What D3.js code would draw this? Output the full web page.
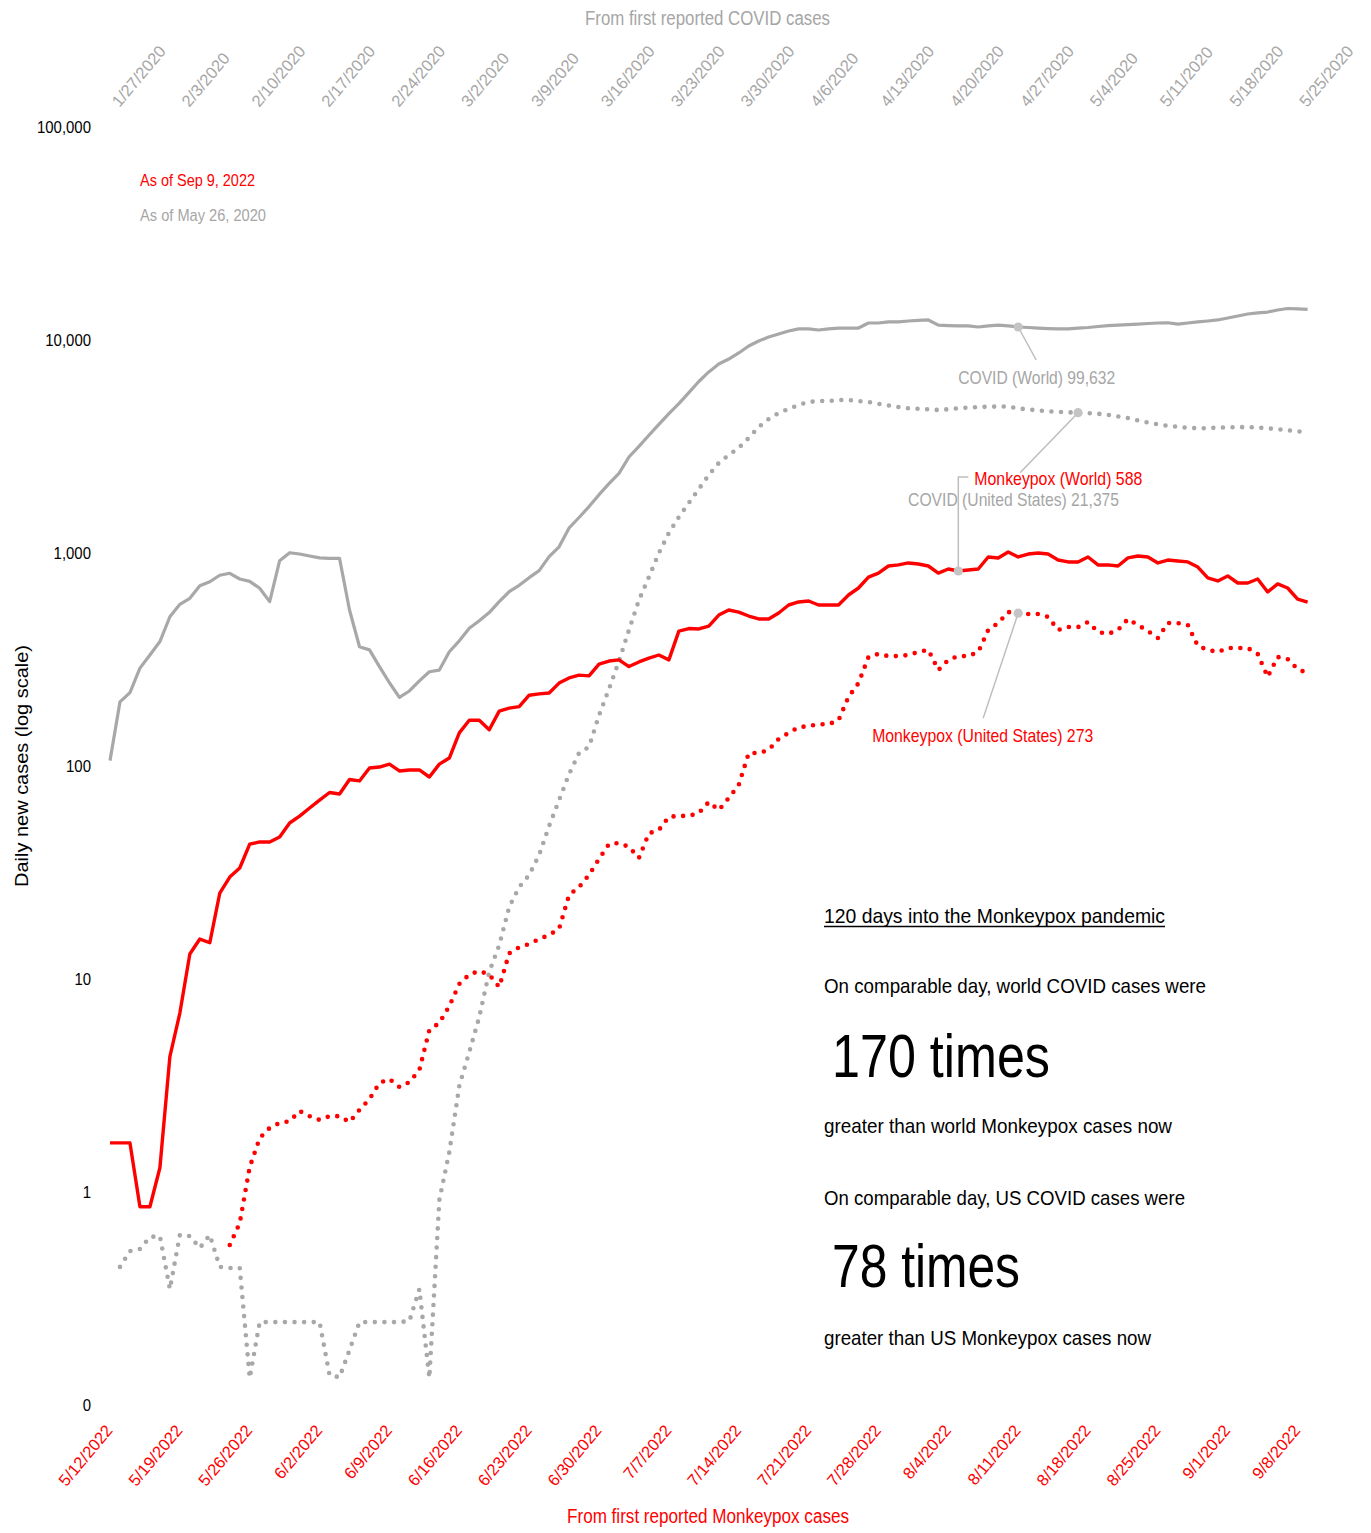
<!DOCTYPE html>
<html><head><meta charset="utf-8">
<script src="https://cdn.jsdelivr.net/npm/d3@7"></script>
<style>
body{margin:0;background:#fff;}
svg text{font-family:"Liberation Sans",Arial,sans-serif;}
</style></head><body><svg id="chart" width="1371" height="1533"></svg>
<script>
// ---------- DATA ----------
// day index 0..120 (day 0 = 1/27/2020 for COVID, 5/12/2022 for Monkeypox)
const covidWorld = [106,200,221,288,332,384,502,574,613,702,
733,786,803,755,736,683,591,920,1003,989,
968,948,944,944,540,363,351,293,246,210,
225,251,277,282,344,387,443,481,525,591,
658,705,766,827,961,1069,1310,1468,1652,1879,
2117,2366,2823,3165,3570,4019,4510,5023,5662,6385,
7080,7716,8140,8690,9370,9890,10330,10670,11020,11270,
11270,11140,11270,11380,11380,11380,12020,12020,12160,12160,
12280,12360,12420,11750,11690,11640,11640,11510,11640,11750,
11640,11510,11450,11380,11320,11270,11270,11380,11450,11570,
11690,11750,11820,11880,11950,12020,12050,11880,12020,12160,
12280,12420,12690,12970,13250,13400,13530,13830,14060,13990,13920];

const covidUS = [null,0.445,0.528,0.540,0.615,0.621,0.350,0.628,0.621,0.546,
0.628,0.445,0.440,0.440,0.134,0.245,0.245,0.245,0.245,0.245,
0.245,0.245,0.138,0.135,0.181,0.245,0.245,0.245,0.245,0.245,
0.248,0.350,0.134,0.917,1.54,3.15,4.54,6.63,10.8,14.4,
21.8,27.0,30.8,38.2,52.3,69.2,91.7,115,123,173,
230,311,435,601,771,1000,1242,1476,1718,1997,
2324,2646,2885,3113,3467,3906,4259,4543,4745,4955,
5117,5172,5172,5226,5226,5172,5117,5012,4932,4844,
4777,4755,4727,4690,4730,4777,4819,4840,4865,4870,
4875,4774,4720,4668,4622,4597,4578,4558,4539,4505,
4456,4375,4301,4189,4095,4020,3955,3912,3870,3850,
3854,3879,3892,3896,3900,3879,3850,3812,3771,3726,3686];

const mpxWorld = [1.70,1.70,1.70,0.853,0.853,1.30,4.32,6.92,13.1,15.4,
14.8,25.3,30.1,33.2,43.0,44.0,44.0,46.4,54.0,58.2,
63.5,69.2,75.1,73.9,86.4,85.1,97.9,98.9,102,94.8,
95.8,95.8,88.8,102,109,143,164,164,148,181,
187,190,215,218,220,245,259,267,265,301,
311,315,293,308,321,332,315,430,442,440,
454,511,540,528,506,490,490,523,570,589,
595,570,570,570,635,685,771,805,869,879,
898,888,869,805,841,823,832,841,958,948,
1011,958,989,1000,989,927,908,908,958,879,
879,869,948,968,958,898,927,917,908,859,
764,739,780,723,723,755,656,716,685,608,588];

const mpxUS = [null,null,null,null,null,null,null,null,null,null,
null,null,0.564,0.715,1.31,1.79,2.0,2.11,2.15,2.40,
2.27,2.18,2.27,2.27,2.13,2.43,2.73,3.25,3.39,3.11,
3.28,3.74,5.76,6.22,7.47,9.48,10.5,10.9,10.5,9.17,
13.2,14.1,14.6,15.4,16.1,17.2,24.8,27.0,30.8,36.6,
43.0,43.5,41.7,37.0,48.3,50.1,57.7,58.3,58.3,60.1,
67.8,62.1,70.8,81.5,115,115,119,134,143,152,
154,157,157,164,211,245,325,336,328,328,
332,343,351,282,315,328,328,343,435,469,
528,522,517,517,501,435,449,449,474,426,
417,435,490,459,430,399,469,469,459,366,
351,343,358,358,358,336,262,325,318,285,273];

const covidTickLabels = ["1/27/2020","2/3/2020","2/10/2020","2/17/2020","2/24/2020","3/2/2020","3/9/2020","3/16/2020","3/23/2020","3/30/2020","4/6/2020","4/13/2020","4/20/2020","4/27/2020","5/4/2020","5/11/2020","5/18/2020","5/25/2020"];
const mpxTickLabels = ["5/12/2022","5/19/2022","5/26/2022","6/2/2022","6/9/2022","6/16/2022","6/23/2022","6/30/2022","7/7/2022","7/14/2022","7/21/2022","7/28/2022","8/4/2022","8/11/2022","8/18/2022","8/25/2022","9/1/2022","9/8/2022"];
const tickDays = d3.range(0, 120, 7);
const yTickValues = [0.1, 1, 10, 100, 1000, 10000, 100000];
const yTickLabels = ["0","1","10","100","1,000","10,000","100,000"];

// annotations: series, marker day, label text
const annotations = [
  {series:"covidWorld", day:91, text:"COVID (World) 99,632"},
  {series:"covidUS", day:97, text:"COVID (United States) 21,375"},
  {series:"mpxWorld", day:85, text:"Monkeypox (World) 588"},
  {series:"mpxUS", day:91, text:"Monkeypox (United States) 273"}
];

// ---------- LAYOUT / STYLE ----------
const RED = "#ff0000", GRAY = "#a8a8a8", GRAYTXT = "#a6a6a6";
const svg = d3.select("#chart");
const x = d3.scaleLinear().domain([0,120]).range([110,1307.6]);
const y = d3.scaleLog().domain([0.1,100000]).range([1405,127]);

function label(sel, o){
  let tr = `translate(${o.x},${o.y})`;
  if (o.rot) tr += ` rotate(${o.rot})`;
  if (o.sx) tr += ` scale(${o.sx},1)`;
  const g = sel.append("g").attr("transform", tr);
  const t = g.append("text").text(o.text)
    .attr("font-size", o.size).attr("fill", o.fill || "#000")
    .attr("text-anchor", o.anchor || "start");
  if (o.len) t.attr("textLength", o.len).attr("lengthAdjust","spacingAndGlyphs");
  return t;
}

// y axis
const yAxis = svg.append("g").attr("transform","translate(94,0)")
  .call(d3.axisLeft(y).tickValues(yTickValues).tickFormat((d,i)=>yTickLabels[i]).tickSize(0).tickPadding(3));
yAxis.select(".domain").remove();
yAxis.selectAll("text").attr("font-size",17).attr("fill","#000")
  .attr("font-family","Liberation Sans, Arial, sans-serif")
  .attr("transform","scale(0.88,1)").attr("x",-3/0.88);

// top axis (COVID dates)
const topAxis = svg.append("g").attr("transform","translate(0,108)")
  .call(d3.axisTop(x).tickValues(tickDays).tickFormat((d,i)=>covidTickLabels[i]).tickSize(0));
topAxis.select(".domain").remove();
topAxis.selectAll("text").attr("font-size",16.5).attr("fill",GRAYTXT)
  .attr("font-family","Liberation Sans, Arial, sans-serif")
  .attr("text-anchor","start").attr("x",0).attr("y",0).attr("dy",0)
  .attr("transform","translate(9,0) rotate(-50)");

// bottom axis (Monkeypox dates)
const botAxis = svg.append("g").attr("transform","translate(0,1431)")
  .call(d3.axisBottom(x).tickValues(tickDays).tickFormat((d,i)=>mpxTickLabels[i]).tickSize(0));
botAxis.select(".domain").remove();
botAxis.selectAll("text").attr("font-size",16.5).attr("fill",RED)
  .attr("font-family","Liberation Sans, Arial, sans-serif")
  .attr("text-anchor","end").attr("x",0).attr("y",0).attr("dy",0)
  .attr("transform","translate(3,0) rotate(-50)");

// axis titles
label(svg,{x:585,y:25,text:"From first reported COVID cases",size:20,fill:GRAYTXT,len:245});
label(svg,{x:567,y:1523,text:"From first reported Monkeypox cases",size:20,fill:RED,len:282});
label(svg,{x:28,y:887,rot:-90,text:"Daily new cases (log scale)",size:19,fill:"#000",len:242});

// "as of" notes
label(svg,{x:140,y:186,text:"As of Sep 9, 2022",size:17,fill:RED,len:115});
label(svg,{x:140,y:221,text:"As of May 26, 2020",size:17,fill:GRAYTXT,len:126});

// lines
const line = d3.line().defined(d=>d!=null).x((d,i)=>x(i)).y(d=>y(d));
const lineDef = (arr)=> d3.line().defined((d,i)=>arr[i]!=null).x((d,i)=>x(i)).y((d,i)=>y(arr[i]))(arr);
const seriesData = {covidWorld, covidUS, mpxWorld, mpxUS};

svg.append("path").attr("d", lineDef(covidWorld)).attr("fill","none")
  .attr("stroke",GRAY).attr("stroke-width",3.2).attr("stroke-linejoin","round");
svg.append("path").attr("d", lineDef(covidUS)).attr("fill","none")
  .attr("stroke",GRAY).attr("stroke-width",4.6).attr("stroke-linecap","round")
  .attr("stroke-dasharray","0 9.6");
svg.append("path").attr("d", lineDef(mpxWorld)).attr("fill","none")
  .attr("stroke",RED).attr("stroke-width",3.4).attr("stroke-linejoin","round");
svg.append("path").attr("d", lineDef(mpxUS)).attr("fill","none")
  .attr("stroke",RED).attr("stroke-width",4.6).attr("stroke-linecap","round")
  .attr("stroke-dasharray","0 9.6");

// annotations: offsets relative to marker
const annLayout = {
  covidWorld:{dx:-60, dy:57, leader:[[18,33]], fill:GRAYTXT, len:157},
  covidUS:{dx:-170, dy:93, leader:[[-58,60]], fill:GRAYTXT, len:211},
  mpxWorld:{dx:16, dy:-86, leader:[[0,-94],[10,-94]], fill:RED, len:168},
  mpxUS:{dx:-146, dy:129, leader:[[-35,105]], fill:RED, len:221}
};
const annG = svg.append("g");
annotations.forEach(a=>{
  const L = annLayout[a.series];
  const px = x(a.day), py = y(seriesData[a.series][a.day]);
  const pts = [[px,py]].concat(L.leader.map(p=>[px+p[0], py+p[1]]));
  annG.append("path").attr("d", d3.line()(pts)).attr("fill","none")
    .attr("stroke","#bdbdbd").attr("stroke-width",1.5);
  annG.append("circle").attr("cx",px).attr("cy",py).attr("r",4.6).attr("fill","#c4c4c4");
  label(annG,{x:px+L.dx, y:py+L.dy, text:a.text, size:19, fill:L.fill, len:L.len});
});

// text block
const tb = svg.append("g");
label(tb,{x:824,y:923,text:"120 days into the Monkeypox pandemic",size:21,len:341});
tb.append("line").attr("x1",824).attr("x2",1165).attr("y1",926.5).attr("y2",926.5).attr("stroke","#000").attr("stroke-width",1.3);
label(tb,{x:824,y:993,text:"On comparable day, world COVID cases were",size:21,len:382});
label(tb,{x:832,y:1077,text:"170 times",size:62,len:218});
label(tb,{x:824,y:1133,text:"greater than world Monkeypox cases now",size:21,len:348});
label(tb,{x:824,y:1205,text:"On comparable day, US COVID cases were",size:21,len:361});
label(tb,{x:832,y:1287,text:"78 times",size:62,len:188});
label(tb,{x:824,y:1345,text:"greater than US Monkeypox cases now",size:21,len:327});
</script></body></html>
